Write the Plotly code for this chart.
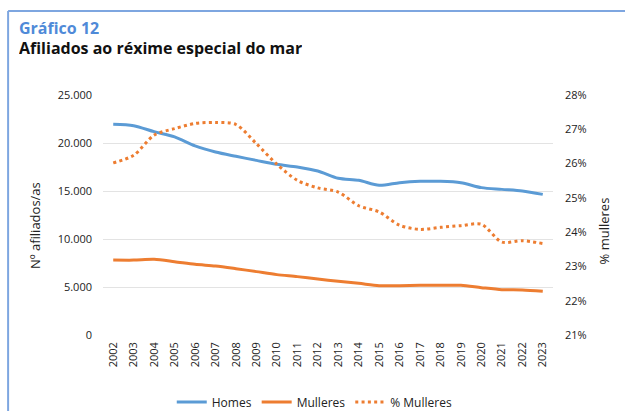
import plotly.graph_objects as go

years = [str(y) for y in range(2002, 2024)]
homes = [21950, 21800, 21180, 20630, 19700, 19060, 18610, 18190, 17780, 17500, 17080,
         16320, 16110, 15590, 15870, 16010, 16010, 15870, 15350, 15170, 15000, 14650]
mulleres = [7810, 7800, 7880, 7640, 7360, 7190, 6910, 6600, 6290, 6080, 5830,
            5590, 5380, 5140, 5140, 5170, 5170, 5170, 4930, 4720, 4690, 4550]
pct_mulleres = [0.2602, 0.2624, 0.2683, 0.2702, 0.2717, 0.2720, 0.2714, 0.2658, 0.2598, 0.2551, 0.2529,
                0.2517, 0.2477, 0.2459, 0.2420, 0.2408, 0.2414, 0.2419, 0.2423, 0.2371, 0.2375, 0.2367]

title1 = "Gráfico 12"
title2 = "Afiliados ao réxime especial do mar"
ytitle_left = "Nº afiliados/as"
ytitle_right = "% mulleres"

W, H = 625, 411
L, R, T, B = 103, 71.5, 95, 76
PW, PH = W - L - R, H - T - B

def px_x(x):
    return (x - L) / PW

def px_y(y):
    return (H - B - y) / PH

BLUE = "#5B9BD5"
ORANGE = "#ED7D31"
FONT = "Open Sans"

fig = go.Figure()
fig.add_trace(go.Scatter(x=years, y=homes, name="Homes", mode="lines",
                         line=dict(color=BLUE, width=3, shape="spline", smoothing=0.8)))
fig.add_trace(go.Scatter(x=years, y=mulleres, name="Mulleres", mode="lines",
                         line=dict(color=ORANGE, width=3, shape="spline", smoothing=0.8)))
fig.add_trace(go.Scatter(x=years, y=pct_mulleres, name="% Mulleres", mode="lines", yaxis="y2",
                         line=dict(color=ORANGE, width=3, dash="3px,3.3px", shape="spline", smoothing=0.8)))

fig.update_layout(
    width=W, height=H,
    margin=dict(l=L, r=R, t=T, b=B, pad=0, autoexpand=False),
    paper_bgcolor="white", plot_bgcolor="white",
    separators=",.",
    font=dict(family=FONT, size=11, color="#222222"),
    showlegend=True,
    legend=dict(orientation="h", x=px_x(315), xanchor="center", y=px_y(402), yanchor="middle",
                font=dict(size=12, color="#222222"), itemwidth=30, traceorder="normal",
                bgcolor="rgba(0,0,0,0)"),
    xaxis=dict(type="category", categoryorder="array", categoryarray=years,
               range=[-0.5, len(years) - 0.5], tickangle=-90, showgrid=False, automargin=False,
               showline=False, zeroline=False, ticks="", ticklabelstandoff=4,
               tickfont=dict(size=11, color="#222222")),
    yaxis=dict(range=[0, 25000], dtick=5000, tickformat=",", showgrid=True, automargin=False,
               gridcolor="#E3E3E3", gridwidth=1, zeroline=False, showline=False,
               ticks="", ticklabelstandoff=10, tickfont=dict(size=11, color="#222222")),
    yaxis2=dict(range=[0.21, 0.28], dtick=0.01, tickformat=".0%", overlaying="y", side="right",
                showgrid=False, zeroline=False, showline=False, ticks="", ticklabelstandoff=11,
                automargin=False, tickfont=dict(size=11, color="#222222")),
)

frame_color = "#7EA6E0"
fig.add_shape(type="line", xref="paper", yref="paper", x0=px_x(8), x1=px_x(626),
              y0=px_y(11), y1=px_y(11), line=dict(color=frame_color, width=2))
fig.add_shape(type="line", xref="paper", yref="paper", x0=px_x(8), x1=px_x(8),
              y0=px_y(11), y1=px_y(412), line=dict(color=frame_color, width=2))

fig.add_annotation(text="<b>" + title1 + "</b>", xref="paper", yref="paper",
                   x=px_x(17), y=px_y(28), xanchor="left", yanchor="middle", showarrow=False,
                   height=18, font=dict(family=FONT, size=16, color="#4F8AD8"))
fig.add_annotation(text="<b>" + title2 + "</b>", xref="paper", yref="paper",
                   x=px_x(17), y=px_y(48.5), xanchor="left", yanchor="middle", showarrow=False,
                   height=18, font=dict(family=FONT, size=16, color="#111111"))
fig.add_annotation(text=ytitle_left, xref="paper", yref="paper", x=px_x(35), y=px_y(226),
                   xanchor="center", yanchor="middle", textangle=-90, showarrow=False,
                   font=dict(family=FONT, size=13, color="#222222"))
fig.add_annotation(text=ytitle_right, xref="paper", yref="paper", x=px_x(605), y=px_y(231),
                   xanchor="center", yanchor="middle", textangle=-90, showarrow=False,
                   font=dict(family=FONT, size=13, color="#222222"))

fig.write_html("out.html", config={"displayModeBar": False},
               post_script="document.body.style.margin='0px';")
